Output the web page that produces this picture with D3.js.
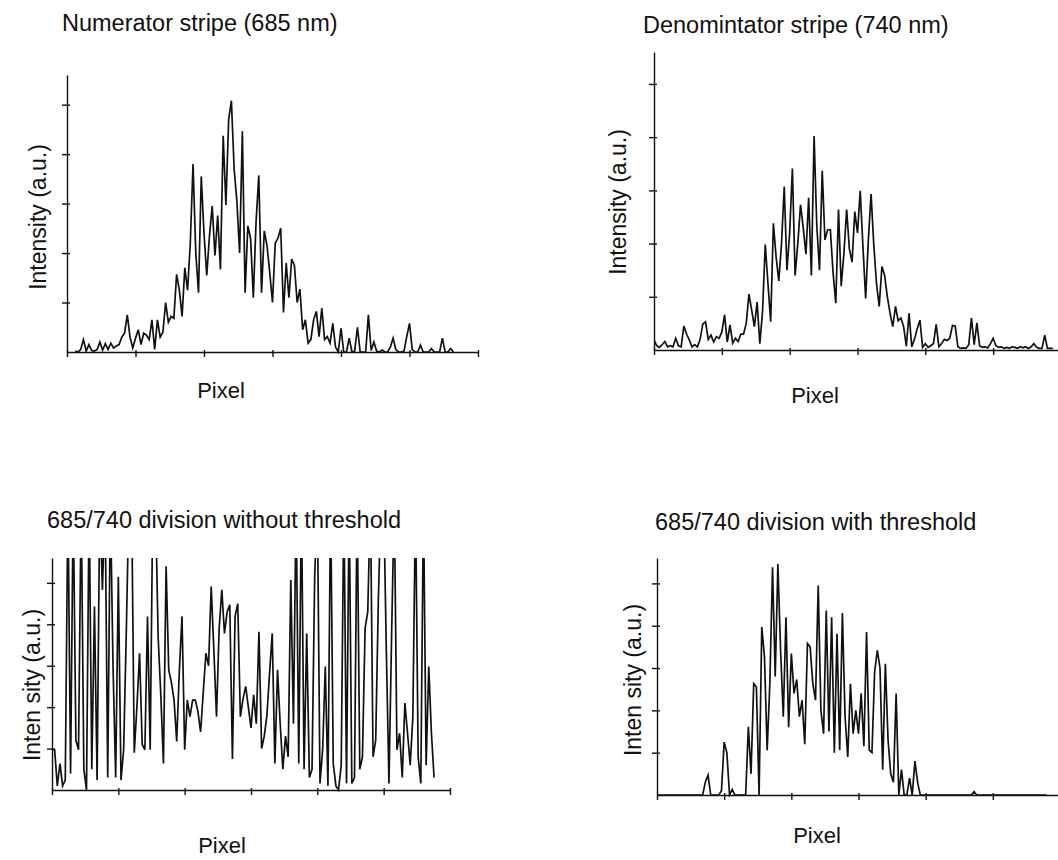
<!DOCTYPE html>
<html>
<head>
<meta charset="utf-8">
<script src="https://cdn.jsdelivr.net/npm/d3@7/dist/d3.min.js"></script>
<style>
body { margin: 0; background: #fff; }
text { font-family: "Liberation Sans", Arial, sans-serif; fill: #111; }
</style>
</head>
<body>
<script>
// intensity (a.u.), one value every 2 pixels
var pixelStep = 2;
var pixelTicks = [0, 50, 100, 150, 200, 250, 300];
var intensityTicks = [1, 2, 3, 4, 5];

var numeratorStart = 6;
var numerator = [
  0.02,0,0.05,0.25,0.02,0.15,0.03,0.02,0.05,0.2,
  0.04,0.17,0.05,0.18,0.08,0.12,0.15,0.3,0.38,0.75,
  0.3,0.08,0.28,0.45,0.15,0.38,0.34,0.25,0.65,0.05,
  0.65,0.3,0.4,1.0,0.6,0.72,0.68,1.57,1.25,0.72,
  1.7,1.25,2.2,3.8,2.0,1.2,3.55,2.4,1.55,2.35,
  2.95,1.95,2.76,1.67,4.37,2.97,4.7,5.08,3.7,3.05,
  2.0,4.46,1.2,2.55,2.3,1.1,2.63,3.57,1.2,2.45,
  2.15,1.6,1.0,2.2,2.3,2.5,0.8,1.8,1.1,1.88,
  1.75,1.0,1.27,0.45,0.65,0.18,0.25,0.65,0.82,0.31,
  0.89,0.25,0.31,0.18,0.58,0.1,0,0.48,0,0,
  0.28,0,0.02,0.5,0,0,0,0.75,0.03,0.2,
  0.02,0,0.04,0,0,0.1,0.28,0.05,0,0,
  0.02,0.31,0.58,0.05,0,0,0.14,0,0,0,
  0.07,0,0,0,0.28,0,0,0.07,0
];

var denominatorStart = 0;
var denominator = [
  0.19,0.08,0.05,0.1,0.16,0.06,0.08,0.06,0.22,0.08,
  0.06,0.45,0.3,0.19,0.06,0.1,0.06,0.2,0.49,0.53,
  0.2,0.28,0.15,0.25,0.22,0.34,0.66,0.15,0.47,0.13,
  0.22,0.16,0.3,0.3,0.5,1.05,0.75,0.44,0.9,0.12,
  0.72,1.98,1.25,0.53,2.38,1.75,1.3,2.0,3.07,1.5,
  2.2,3.41,1.4,2.0,2.73,2.3,1.8,2.86,1.4,4.02,
  2.33,1.5,3.37,2.07,2.26,2.26,1.45,0.88,2.64,1.2,
  1.82,2.64,1.9,1.65,2.6,2.2,2.99,1.95,0.97,2.07,
  2.93,1.98,1.25,0.82,1.57,1.4,1.0,0.69,0.44,0.82,
  0.55,0.6,0.44,0.07,0.69,0.06,0.2,0.4,0.56,0.05,
  0.12,0.05,0.08,0.12,0.48,0.06,0.12,0.2,0.18,0.22,
  0.46,0.45,0.06,0.03,0.04,0.03,0.1,0.6,0.1,0.51,
  0.08,0.05,0.06,0.04,0.12,0.22,0.08,0.05,0.06,0.03,
  0.05,0.03,0.06,0.05,0.03,0.06,0.04,0.06,0.03,0.06,
  0.12,0.05,0.03,0.03,0.28,0.03,0.03,0.03
];

// values above the frame are cut off in the picture (7 = off the top)
var noThresholdStart = 0;
var noThreshold = [
  0.97,0.97,0.1,0.64,0.1,0.24,7,0.4,7,1.2,
  0.97,7,0.5,0,7,0.5,4.43,0.24,7,4.83,
  7,0.3,7,2.98,0.3,5.15,0.24,0.97,3.8,7,
  7,0.9,2.0,3.3,1.1,0.97,4.19,0.97,7,7,
  3.7,2.3,0.64,5.4,2.9,2.6,2.17,1.17,2.9,4.19,
  0.97,2.17,1.77,2.17,2.17,1.9,1.4,2.35,3.3,3.0,
  4.91,3.38,1.77,3.9,4.83,3.78,4.3,4.47,0.75,4.19,
  4.5,1.77,2.2,2.5,2.0,1.5,2.3,1.6,3.82,1.0,
  1.3,1.8,2.82,3.78,0.64,2.9,1.6,0.5,1.3,0.8,
  5.07,1.6,7,0.64,7,0.5,3.78,0.3,0.5,5.15,
  7,0.16,0.97,2.98,0.1,7,0.64,0.1,0,0.6,
  7,0.16,7,0.16,0.3,7,0.5,0.8,3.9,4.3,
  7,0.8,1.2,4.6,7,7,3.38,0.16,3.78,7,
  0.97,1.37,0.3,2.1,1.37,0.6,1.77,7,0.8,0.16,
  7,0.6,2.98,1.37,0.3
];

var withThresholdStart = 0;
var withThreshold = [
  0,0,0,0,0,0,0,0,0,0,
  0,0,0,0,0,0,0,0,0.31,0.47,
  0,0,0,0,0.1,1.25,1.0,0,0.13,0,
  0,0,0,0,1.61,0.5,2.63,2.55,0,3.97,
  3.26,1.06,2.63,5.38,2.8,5.46,3.42,1.85,4.2,1.6,
  3.34,2.4,2.73,1.85,2.24,1.2,3.58,3.5,2.63,2.24,
  4.95,2.0,1.45,4.36,1.5,4.2,1.0,3.81,1.06,4.3,
  1.85,0.9,2.63,1.45,2.0,1.45,2.4,1.15,3.85,1.06,
  1.0,2.9,3.42,3.0,0.6,3.1,1.3,0.5,0.3,2.4,
  0,0.6,0,0,0.4,0,0.8,0.3,0,0,
  0,0,0,0,0,0,0,0,0,0,
  0,0,0,0,0,0,0,0,0.08,0,
  0,0,0,0,0,0,0,0,0,0,
  0,0,0,0,0,0,0,0,0,0,
  0,0,0,0,0,0
];

var panels = [
  { title: "Numerator stripe (685 nm)", ylab: "Intensity (a.u.)",
    values: numerator, start: numeratorStart,
    x0: 67, x1: 478, base: 352, top: 75,
    tx: 62, ty: 31, lx: 46, ly: 217, px: 221, py: 398 },
  { title: "Denomintator stripe (740 nm)", ylab: "Intensity (a.u.)",
    values: denominator, start: denominatorStart,
    x0: 654, x1: 1061, base: 350, top: 52,
    tx: 643, ty: 33, lx: 626, ly: 202, px: 815, py: 403 },
  { title: "685/740 division without threshold", ylab: "Inten sity (a.u.)",
    values: noThreshold, start: noThresholdStart,
    x0: 52, x1: 450, base: 790, top: 558,
    tx: 47, ty: 528, lx: 40, ly: 685, px: 222, py: 853 },
  { title: "685/740 division with threshold", ylab: "Inten sity (a.u.)",
    values: withThreshold, start: withThresholdStart,
    x0: 657, x1: 1060, base: 795, top: 558,
    tx: 655, ty: 530, lx: 641, ly: 680, px: 817, py: 843 }
];

var svg = d3.select("body").append("svg")
    .attr("width", 1058)
    .attr("height", 860);

panels.forEach(function(p, k) {
  var x = d3.scaleLinear().domain([0, 300]).range([p.x0, p.x1]);
  var y = d3.scaleLinear().domain([0, 5.6]).range([p.base, p.top]);

  // title
  svg.append("text")
      .attr("x", p.tx).attr("y", p.ty)
      .style("font-size", "23.5px")
      .text(p.title);

  // clip so the spikes stop at the top of the frame
  svg.append("clipPath").attr("id", "clip" + k)
    .append("rect")
      .attr("x", p.x0).attr("y", p.top)
      .attr("width", p.x1 - p.x0).attr("height", p.base - p.top + 2);

  var line = d3.line()
      .x(function(d, i) { return x(p.start + i * pixelStep); })
      .y(function(d) { return y(d); });

  svg.append("path")
      .datum(p.values)
      .attr("clip-path", "url(#clip" + k + ")")
      .attr("fill", "none")
      .attr("stroke", "#111")
      .attr("stroke-width", 1.7)
      .attr("d", line);

  // x axis, ticks crossing the line
  var gx = svg.append("g")
      .attr("transform", "translate(0," + p.base + ")")
      .call(d3.axisBottom(x).tickValues(pixelTicks).tickFormat("").tickSizeOuter(0));
  gx.selectAll(".tick line").attr("y1", -2).attr("y2", 5);

  // y axis
  var gy = svg.append("g")
      .attr("transform", "translate(" + p.x0 + ",0)")
      .call(d3.axisLeft(y).tickValues(intensityTicks).tickFormat("").tickSizeOuter(0));
  gy.selectAll(".tick line").attr("x1", 3).attr("x2", -5);

  svg.selectAll(".domain, .tick line")
      .attr("stroke", "#111")
      .attr("stroke-width", 1.4);

  // axis titles
  svg.append("text")
      .attr("transform", "translate(" + p.lx + "," + p.ly + ") rotate(-90)")
      .attr("text-anchor", "middle")
      .style("font-size", "23px")
      .text(p.ylab);

  svg.append("text")
      .attr("x", p.px).attr("y", p.py)
      .attr("text-anchor", "middle")
      .style("font-size", "22px")
      .text("Pixel");
});
</script>
</body>
</html>
